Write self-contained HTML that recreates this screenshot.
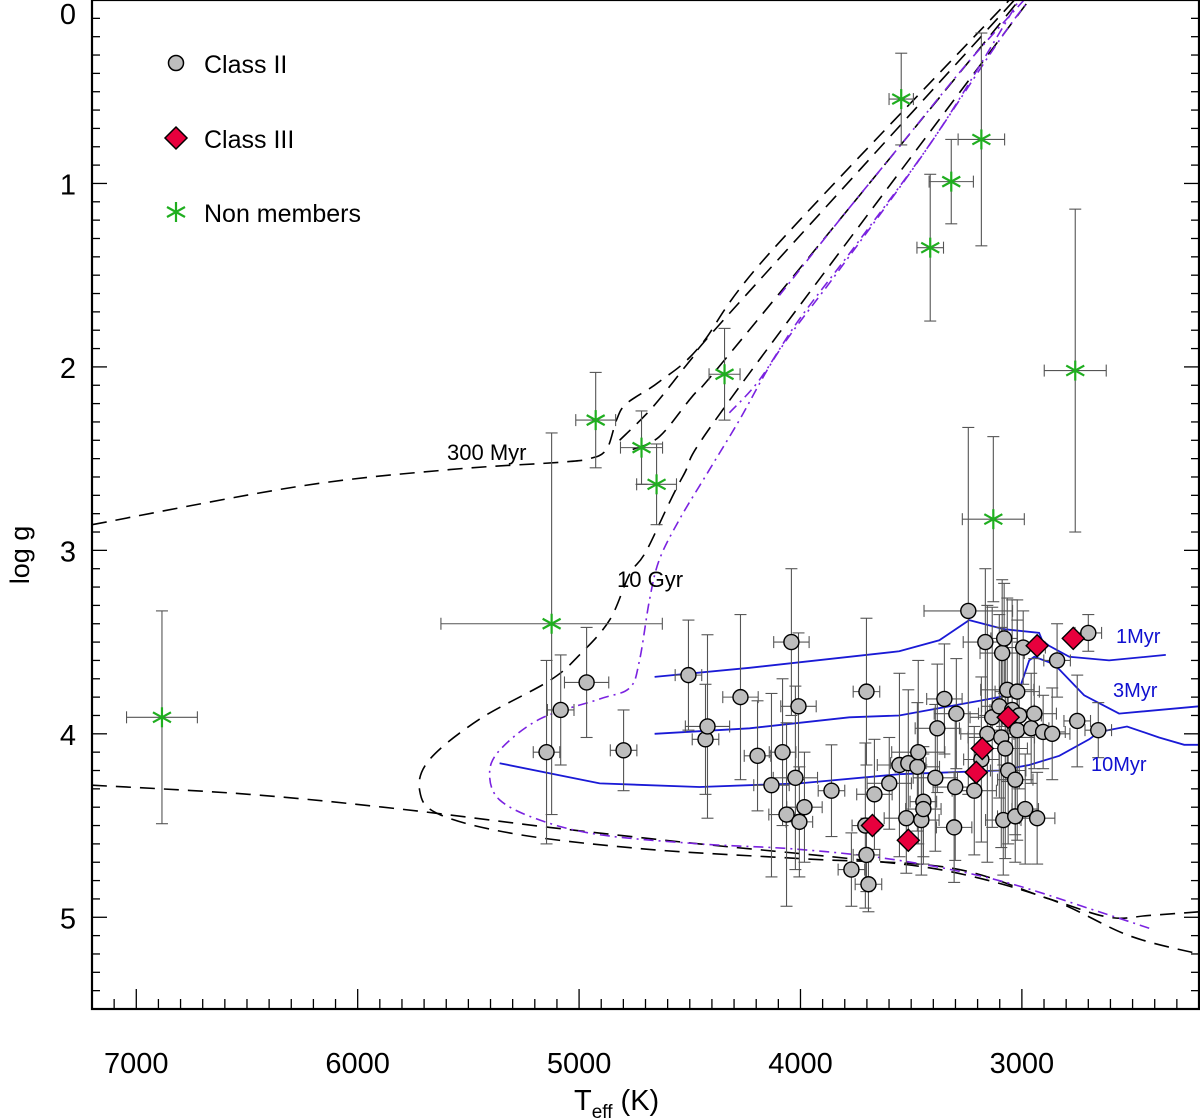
<!DOCTYPE html>
<html><head><meta charset="utf-8">
<style>
html,body{margin:0;padding:0;background:#fff;}
svg{display:block;font-family:"Liberation Sans",sans-serif;}
</style></head>
<body>
<svg id="chart" width="1200" height="1120" viewBox="0 0 1200 1120" xmlns="http://www.w3.org/2000/svg">
<g id="curves"></g>
<g id="errs"></g>
<g id="marks"></g>
<g id="axes"></g>
<g>
 <circle cx="176" cy="63" r="7.5" fill="#bdbdbd" stroke="#000" stroke-width="1.5"/>
 <text x="204" y="73" font-size="25">Class II</text>
 <polygon points="176,127 187,138 176,149 165,138" fill="#e8003d" stroke="#000" stroke-width="1.5"/>
 <text x="204" y="148" font-size="25">Class III</text>
 <g stroke="#1fae1f" stroke-width="2.2">
  <line x1="176" y1="202" x2="176" y2="222"/><line x1="167" y1="207" x2="185" y2="217"/><line x1="167" y1="217" x2="185" y2="207"/>
 </g>
 <text x="204" y="222" font-size="25">Non members</text>
</g>
<text x="447" y="460" font-size="22">300 Myr</text>
<text x="617" y="587" font-size="22">10 Gyr</text>
<text x="1116" y="643" font-size="20" fill="#1010d0">1Myr</text>
<text x="1113" y="697" font-size="20" fill="#1010d0">3Myr</text>
<text x="1091" y="771" font-size="20" fill="#1010d0">10Myr</text>
<text x="0" y="0" font-size="27" transform="translate(29,555) rotate(-90)" text-anchor="middle">log g</text>
<text x="574" y="1110" font-size="29">T<tspan font-size="19" dy="8">eff</tspan><tspan dy="-8"> (K)</tspan></text>
</svg>
<script>
// ---- data ----
const classIIT = [5147,5083,4966,4799,4506,4429,4420,4271,4194,4131,4081,4063,4041,4023,4009,4005,3982,3860,3770,3702,3702,3693,3707,3666,3599,3553,3513,3472,3468,3522,3454,3445,3445,3391,3382,3350,3296,3301,3306,3242,3215,3183,3165,3156,3134,3102,3089,3080,3093,3084,3075,3066,3062,3044,3030,3030,3021,3021,3012,2994,2985,2958,2944,2931,2904,2863,2841,2750,2700,2655];
const classIIG = [4.10,3.87,3.72,4.09,3.68,4.03,3.96,3.80,4.12,4.28,4.10,4.44,3.50,4.24,3.85,4.48,4.40,4.31,4.74,3.77,4.66,4.82,4.50,4.33,4.27,4.17,4.16,4.18,4.10,4.46,4.47,4.37,4.41,4.24,3.97,3.81,3.89,4.29,4.51,3.33,4.31,4.14,3.50,4.00,3.91,3.85,3.56,3.48,4.02,4.47,4.08,3.76,4.20,3.87,4.25,4.45,3.77,3.98,3.90,3.53,4.41,3.97,3.89,4.46,3.99,4.00,3.60,3.93,3.45,3.98];
const classIIXerr = [60,60,100,60,60,60,100,80,60,80,60,80,80,100,80,60,80,60,60,60,60,60,60,80,100,100,80,100,120,100,80,60,80,100,100,80,100,100,80,200,100,80,100,120,100,80,100,60,150,80,100,120,80,100,80,80,100,120,100,100,60,80,100,80,100,80,60,60,60,60];
const classIIYerr = [0.5,0.3,0.3,0.22,0.3,0.3,0.5,0.45,0.3,0.5,0.4,0.5,0.4,0.5,0.4,0.3,0.3,0.25,0.2,0.4,0.2,0.15,0.45,0.3,0.25,0.5,0.4,0.35,0.5,0.3,0.3,0.3,0.3,0.4,0.35,0.3,0.3,0.4,0.3,1.0,0.35,0.45,0.4,0.7,0.6,0.5,0.4,0.3,0.6,0.3,0.6,0.5,0.4,0.6,0.3,0.25,0.5,0.6,0.4,0.2,0.3,0.3,0.3,0.25,0.2,0.25,0.2,0.25,0.1,0.15];
const classIIIT = [2931,2768,3062,3179,3206,3513,3675];
const classIIIG = [3.52,3.48,3.91,4.08,4.21,4.58,4.50];
const nonMemT = [6884,5124,4925,4718,4650,4343,3545,3414,3319,3183,3129,2759];
const nonMemG = [3.91,3.40,2.29,2.44,2.64,2.04,0.54,1.35,0.99,0.76,2.83,2.02];
const nonMemXerr = [160,500,90,95,90,70,55,60,100,105,140,140];
const nonMemYerr = [0.58,1.04,0.26,0.2,0.22,0.25,0.25,0.4,0.23,0.58,0.45,0.88];
// isochrones
const iso300T = [7200,6261,5584,5088,4953,4876,4831,4786,4637,4456,4140,3057];
const iso300G = [2.86,2.65,2.56,2.52,2.50,2.45,2.29,2.20,2.08,1.89,1.38,0];
const isoBlackBT = [7200,6487,5810,5133,4456,3779,3328,2877,2516,2200];
const isoBlackBG = [4.28,4.33,4.41,4.51,4.60,4.68,4.75,4.90,5.10,5.20];
const iso10GyrT = [2200,2425,2606,2877,3328,4005,4682,5268,5630,5720,5675,5449,5133,4998,4862,4772,4695,4533,4307,2967];
const iso10GyrG = [4.97,4.99,5.00,4.90,4.73,4.68,4.63,4.55,4.44,4.31,4.14,3.92,3.71,3.57,3.38,3.13,3.00,2.60,2.16,0];
const isoBlackDT = [4817,4668,4488,4307,3034];
const isoBlackDG = [2.40,2.22,1.95,1.69,0];
const isoBlackET = [4758,4637,4488,4307,3012];
const isoBlackEG = [2.45,2.38,2.16,1.91,0];
const isoPurpleAT = [2425,2651,3102,3554,4005,4456,4907,5178,5359,5404,5359,5178,4907,4772,4727,4682,4637,4546,4411,4276,4095,3824,3463,3102,2967];
const isoPurpleAG = [5.06,4.97,4.80,4.69,4.63,4.60,4.55,4.47,4.36,4.22,4.09,3.92,3.81,3.75,3.60,3.27,3.05,2.83,2.56,2.29,1.91,1.47,0.87,0.22,0];
const isoPurpleBT = [4321,4185,4005,3734,3373,3012];
const isoPurpleBG = [2.25,2.07,1.74,1.31,0.71,0];
const isoPurpleCT = [4095,3824,3554,3250,2990];
const isoPurpleCG = [1.61,1.20,0.80,0.35,0];
const iso1MyrT = [4659,4230,3554,3373,3238,3080,2922,2908,2877,2786,2606,2350];
const iso1MyrG = [3.69,3.64,3.55,3.49,3.38,3.43,3.45,3.49,3.52,3.58,3.60,3.57];
const iso3MyrT = [4659,4230,3779,3554,3102,3012,2967,2944,2854,2719,2561,2200];
const iso3MyrG = [4.00,3.97,3.91,3.90,3.80,3.76,3.60,3.58,3.62,3.79,3.89,3.85];
const iso10MyrT = [5359,4907,4456,4005,3554,3102,2967,2831,2696,2651,2525,2380,2267,2200];
const iso10MyrG = [4.16,4.27,4.29,4.27,4.22,4.20,4.17,4.12,4.03,3.99,3.96,4.02,4.06,4.06];
const xTickLabels = [7000,6000,5000,4000,3000];
const yTickLabels = [0,1,2,3,4,5];

// ---- axis functions ----
const X0=92, X1=1199, Y0=0, Y1=1009, TMAX=7200, TMIN=2200, GMIN=0, GMAX=5.5;
const xs = t => X0 + (TMAX - t) * (X1 - X0) / (TMAX - TMIN);
const ys = g => Y0 + (g - GMIN) * (Y1 - Y0) / (GMAX - GMIN);
const NS='http://www.w3.org/2000/svg';
function mk(tag, parent, attrs){const e=document.createElementNS(NS,tag);for(const k in attrs)e.setAttribute(k,attrs[k]);parent.appendChild(e);return e;}
const curves=document.getElementById('curves'), errs=document.getElementById('errs'), marks=document.getElementById('marks'), axes=document.getElementById('axes');

function smoothPath(P){
  let d='M'+P[0][0].toFixed(1)+','+P[0][1].toFixed(1);
  for(let i=0;i<P.length-1;i++){
    const p0=P[Math.max(i-1,0)],p1=P[i],p2=P[i+1],p3=P[Math.min(i+2,P.length-1)];
    const c1=[p1[0]+(p2[0]-p0[0])/6,p1[1]+(p2[1]-p0[1])/6];
    const c2=[p2[0]-(p3[0]-p1[0])/6,p2[1]-(p3[1]-p1[1])/6];
    d+=' C'+c1[0].toFixed(1)+','+c1[1].toFixed(1)+' '+c2[0].toFixed(1)+','+c2[1].toFixed(1)+' '+p2[0].toFixed(1)+','+p2[1].toFixed(1);
  }
  return d;
}
function curve(T,G,name,color,dash,w,smooth){
  const P=T.map((t,i)=>[xs(t),ys(G[i])]);
  const d=smooth?smoothPath(P):P.map((p,i)=>(i?'L':'M')+p[0].toFixed(1)+','+p[1].toFixed(1)).join(' ');
  const p=mk('path',curves,{d:d,fill:'none',stroke:color,'stroke-width':w,'stroke-dasharray':dash});
  
  
}
curve(iso300T,iso300G,'isochrone-300myr','#000','15,9',1.6,true);
curve(isoBlackBT,isoBlackBG,'isochrone-black-lower','#000','15,9',1.6,true);
curve(iso10GyrT,iso10GyrG,'isochrone-10gyr','#000','15,9',1.6,true);
curve(isoBlackDT,isoBlackDG,'isochrone-black-upper','#000','15,9',1.6,true);
curve(isoBlackET,isoBlackEG,'isochrone-black-upper-2','#000','15,9',1.6,true);
curve(isoPurpleAT,isoPurpleAG,'isochrone-purple-main','#7a22e0','10,5,2,5',1.6,true);
curve(isoPurpleBT,isoPurpleBG,'isochrone-purple-upper','#7a22e0','10,5,2,5',1.6,true);
curve(isoPurpleCT,isoPurpleCG,'isochrone-purple-upper-2','#7a22e0','10,5,2,5',1.6,true);
curve(iso1MyrT,iso1MyrG,'isochrone-1myr','#1a1ad6','',1.8,false);
curve(iso3MyrT,iso3MyrG,'isochrone-3myr','#1a1ad6','',1.8,false);
curve(iso10MyrT,iso10MyrG,'isochrone-10myr','#1a1ad6','',1.8,false);

function errbar(t,g,xe,ye,name){
  const x=xs(t),y=ys(g),xa=xs(t+xe),xb=xs(t-xe),ya=ys(g-ye),yb=ys(g+ye);
  const grp=mk('g',errs,{stroke:'#555','stroke-width':1.1});
  
  
  mk('line',grp,{x1:xa,y1:y,x2:xb,y2:y});
  mk('line',grp,{x1:x,y1:ya,x2:x,y2:yb});
  mk('line',grp,{x1:xa,y1:y-6,x2:xa,y2:y+6});
  mk('line',grp,{x1:xb,y1:y-6,x2:xb,y2:y+6});
  mk('line',grp,{x1:x-6,y1:ya,x2:x+6,y2:ya});
  mk('line',grp,{x1:x-6,y1:yb,x2:x+6,y2:yb});
}
classIIT.forEach((t,i)=>errbar(t,classIIG[i],classIIXerr[i],classIIYerr[i],'class-ii-error'));
nonMemT.forEach((t,i)=>errbar(t,nonMemG[i],nonMemXerr[i],nonMemYerr[i],'non-member-error'));

classIIT.forEach((t,i)=>{
  const c=mk('circle',marks,{cx:xs(t),cy:ys(classIIG[i]),r:7.5,fill:'#bdbdbd',stroke:'#000','stroke-width':1.4});
  
  
});
classIIIT.forEach((t,i)=>{
  const x=xs(t),y=ys(classIIIG[i]);
  const p=mk('polygon',marks,{points:`${x},${y-11} ${x+11},${y} ${x},${y+11} ${x-11},${y}`,fill:'#e8003d',stroke:'#000','stroke-width':1.4});
  
  
});
nonMemT.forEach((t,i)=>{
  const x=xs(t),y=ys(nonMemG[i]);
  const grp=mk('g',marks,{stroke:'#1fae1f','stroke-width':2.2});
  
  
  mk('line',grp,{x1:x,y1:y-10,x2:x,y2:y+10});
  mk('line',grp,{x1:x-9,y1:y-5,x2:x+9,y2:y+5});
  mk('line',grp,{x1:x-9,y1:y+5,x2:x+9,y2:y-5});
});

// axes frame
const frame=mk('rect',axes,{x:X0,y:Y0,width:X1-X0,height:Y1-Y0,fill:'none',stroke:'#000','stroke-width':2.2});


for(let t=7200;t>=2200;t-=100){
  const x=xs(t), major=(t%1000===0);
  mk('line',axes,{x1:x,y1:Y1,x2:x,y2:Y1-(major?20:10),stroke:'#000','stroke-width':1.3});
}
for(let k=0;k<=55;k++){
  const g=k/10, y=ys(g), major=(k%10===0);
  const L=major?15:8;
  mk('line',axes,{x1:X0,y1:y,x2:X0+L,y2:y,stroke:'#000','stroke-width':1.3});
  mk('line',axes,{x1:X1,y1:y,x2:X1-L,y2:y,stroke:'#000','stroke-width':1.3});
}
xTickLabels.forEach(t=>{
  const tx=mk('text',axes,{x:xs(t),y:1073,'font-size':29,'text-anchor':'middle'});
  tx.textContent=t;
  
  
});
yTickLabels.forEach(g=>{
  const ty=mk('text',axes,{x:76,y:Math.max(ys(g)+11,24),'font-size':29,'text-anchor':'end'});
  ty.textContent=g;
  
  
});
</script>
</body></html>
